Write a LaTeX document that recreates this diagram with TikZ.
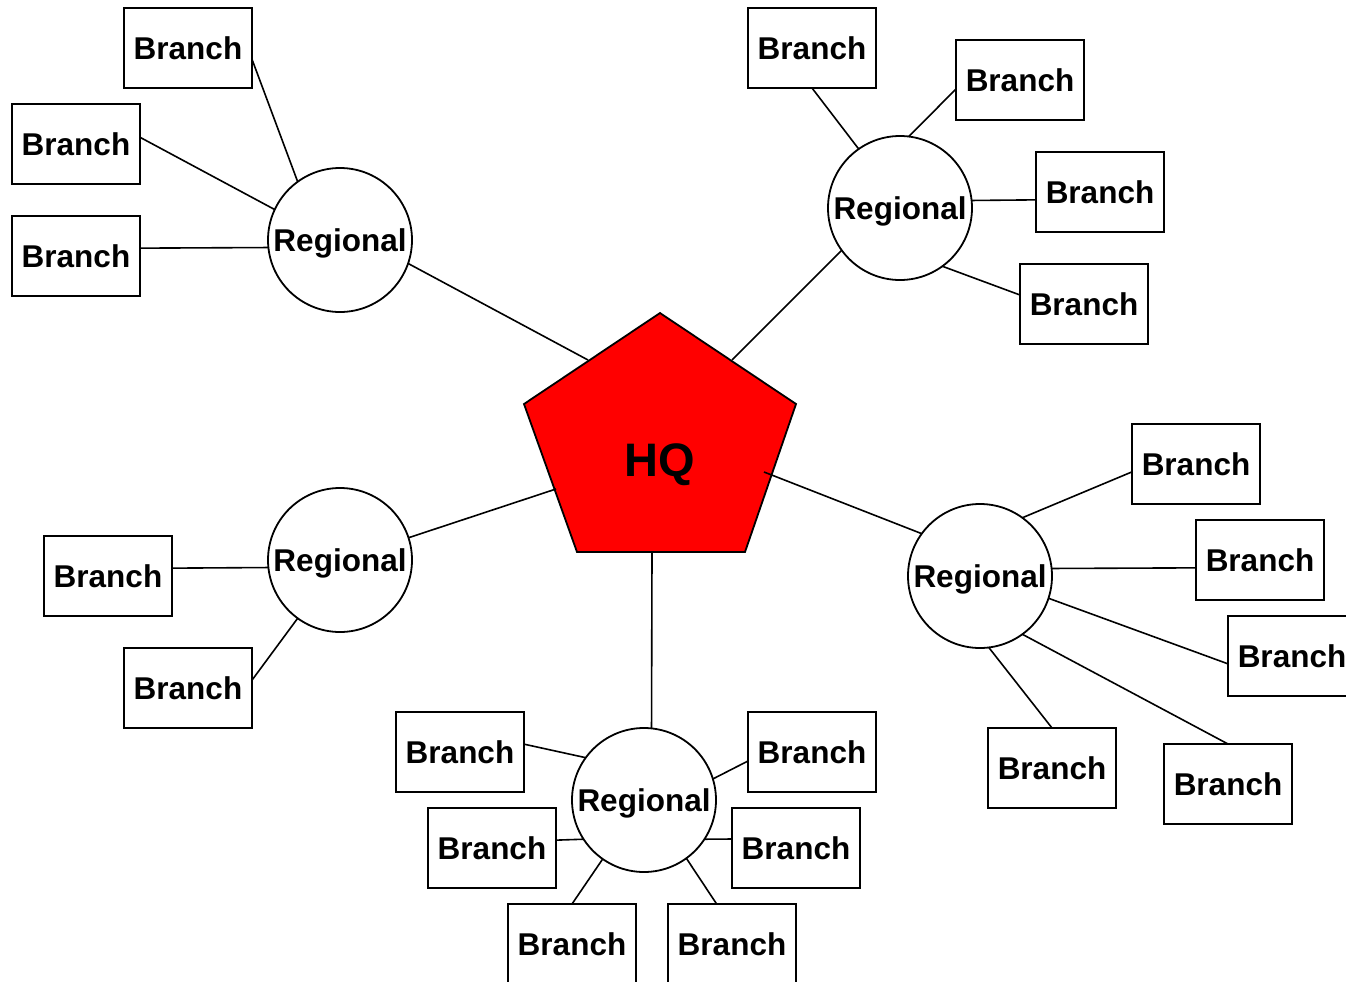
\documentclass[tikz,border=0pt]{standalone}
\usepackage{fontspec}
\setmainfont{Liberation Sans}
\begin{document}
\begin{tikzpicture}[x=1pt,y=-1pt,line width=1.8pt,
  lbl/.style={font=\fontsize{31.5}{38}\selectfont\bfseries, text height=23pt, text depth=0pt},
  branch/.style={lbl, draw, rectangle, minimum width=128pt, minimum height=80pt, inner sep=0pt, outer sep=0pt, fill=white},
  regional/.style={lbl, draw, circle, minimum size=144pt, inner sep=0pt, outer sep=0pt, fill=white},
  link/.style={draw, line width=1.6pt}]
\clip (0,0) rectangle (1346,982);
% HQ pentagon
\coordinate (p1) at (660,313);
\coordinate (p2) at (796,404);
\coordinate (p3) at (745,552);
\coordinate (p4) at (577,552);
\coordinate (p5) at (524,404);
\draw[fill=red] (p1) -- (p2) -- (p3) -- (p4) -- (p5) -- cycle;
\node[anchor=base, font=\fontsize{47}{56}\selectfont\bfseries] (hq) at (660,476) {HQ};
\coordinate (hq1) at (588,360);
\coordinate (hq2) at (732,360);
\coordinate (hq3) at (556,489);
\coordinate (hq4) at (764,472);
\coordinate (hq5) at (652,552);
% Regionals
\node[regional] (r1) at (340,240) {Regional};
\node[regional] (r2) at (900,208) {Regional};
\node[regional] (r3) at (340,560) {Regional};
\node[regional] (r4) at (980,576) {Regional};
\node[regional] (r5) at (644,800) {Regional};
% Branches
\node[branch] (b1) at (188,48) {Branch};
\node[branch] (b2) at (76,144) {Branch};
\node[branch] (b3) at (76,256) {Branch};
\node[branch] (b4) at (812,48) {Branch};
\node[branch] (b5) at (1020,80) {Branch};
\node[branch] (b6) at (1100,192) {Branch};
\node[branch] (b7) at (1084,304) {Branch};
\node[branch] (b8) at (108,576) {Branch};
\node[branch] (b9) at (188,688) {Branch};
\node[branch] (b10) at (1196,464) {Branch};
\node[branch] (b11) at (1260,560) {Branch};
\node[branch] (b12) at (1292,656) {Branch};
\node[branch] (b13) at (1052,768) {Branch};
\node[branch] (b14) at (1228,784) {Branch};
\node[branch] (b15) at (460,752) {Branch};
\node[branch] (b16) at (812,752) {Branch};
\node[branch] (b17) at (492,848) {Branch};
\node[branch] (b18) at (796,848) {Branch};
\node[branch] (b19) at (572,944) {Branch};
\node[branch] (b20) at (732,944) {Branch};
% Links to HQ
\draw[link] (r1.-19) -- (hq1);
\draw[link] (r2.216) -- (hq2);
\draw[link] (r3.18) -- (hq3);
\draw[link] (r4.144) -- (hq4);
\draw[link] (r5.84) -- (hq5);
% Region 1
\draw[link] (b1.-10.6) -- (r1.126);
\draw[link] (b2.6.2) -- (r1.155);
\draw[link] (b3.7.1) -- (r1.186.4);
% Region 2
\draw[link] (b4.south) -- (r2.125.5);
\draw[link] (b5.188) -- (r2.83.7);
\draw[link] (b6.187.1) -- (r2.6.4);
\draw[link] (b7.172.9) -- (r2.-54.5);
% Region 3
\draw[link] (b8.7.1) -- (r3.186.4);
\draw[link] (b9.7.1) -- (r3.234.5);
% Region 4
\draw[link] (b10.187.1) -- (r4.54.5);
\draw[link] (b11.187.1) -- (r4.6.4);
\draw[link] (b12.187.1) -- (r4.-18.4);
\draw[link] (b13.north) -- (r4.-83.7);
\draw[link] (b14.north) -- (r4.-54.5);
% Region 5
\draw[link] (b15.7) -- (r5.144.7);
\draw[link] (b16.188) -- (r5.17.7);
\draw[link] (b17.7.1) -- (r5.213.7);
\draw[link] (b18.172.9) -- (r5.-33.7);
\draw[link] (b19.north) -- (r5.235);
\draw[link] (b20.111.8) -- (r5.-54.5);
\end{tikzpicture}
\end{document}
